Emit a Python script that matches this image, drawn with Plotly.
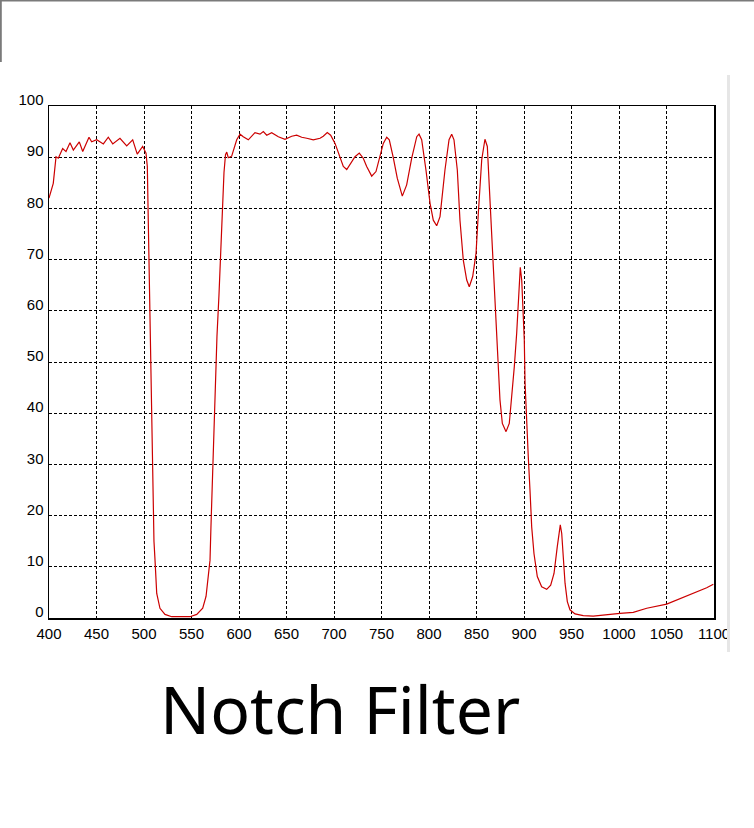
import plotly.graph_objects as go

wavelength_nm = [
    400, 404.5, 407.4, 409.8, 414.4, 417.9, 422.1, 425.6, 431.9, 435.5, 442.1, 444.9,
    450.2, 457.2, 462.4, 467.1, 474.7, 481.8, 488.1, 492.9, 498.6, 502.1, 503.5, 504.2,
    505.8, 507.4, 509, 510.5, 511.6, 513.4, 516.8, 522.1, 529.2, 548.4, 555.5, 561.8,
    565.3, 567.7, 569.5, 570.5, 572.6, 574.7, 576.8, 578.9, 580, 582.6, 584.2, 585.8,
    587.1, 588.7, 592.3, 597.6, 601.1, 604.5, 609.8, 616.8, 622.1, 625.6, 629.2, 634.4,
    641.4, 648.4, 655.5, 660.7, 666, 671.3, 678.2, 685.3, 688.7, 692.9, 696.5, 701.1,
    706.3, 709.8, 713.4, 716.8, 722.1, 726.6, 730.8, 734.4, 739.7, 744.2, 748.4, 751.9,
    755.5, 758.2, 762.4, 766.6, 771.9, 776.5, 781.8, 787.1, 789.5, 792.3, 796.8, 801.1,
    804.5, 808.1, 811.6, 816.8, 821.1, 823.9, 826.3, 829.8, 832.6, 836.1, 839.7, 842.4,
    846, 849.5, 851.9, 855.5, 858.9, 861.4, 863.5, 866, 867.7, 868.7, 870.5, 872.3,
    874.7, 877.2, 881.1, 884.5, 887.1, 889.8, 892.3, 894, 895.1, 896.1, 897.6, 898.6,
    899.3, 900.3, 901.1, 902.1, 902.8, 904.5, 906.3, 908.1, 910.5, 914, 918.6, 923.9,
    928.1, 931.6, 935, 937.2, 938.2, 939.7, 941.4, 943.2, 945.6, 948.4, 953.7, 962.4,
    972.9, 983.5, 1001, 1015, 1029.2, 1050.2, 1067.7, 1081.8, 1092.3, 1099.3,
]
transmittance_pct = [
    82.0, 84.9, 90.1, 89.8, 91.7, 91.1, 92.8, 91.4, 93.0, 91.1, 93.9, 93.0,
    93.4, 92.6, 93.9, 92.6, 93.7, 92.2, 93.4, 90.6, 92.1, 90.8, 88.2, 80,
    65, 45, 25, 15, 11.3, 4.8, 1.9, 0.7, 0.25, 0.25, 0.7, 1.9,
    4.2, 8.1, 11.3, 18, 32, 45, 55, 63, 68, 80, 87, 90.5,
    91, 89.9, 90.2, 93.4, 94.5, 94.0, 93.4, 94.8, 94.5, 95.0, 94.3, 94.8,
    94.0, 93.5, 94.1, 94.3, 93.9, 93.7, 93.4, 93.7, 94.1, 94.8, 94.3, 92.7,
    90.1, 88.2, 87.6, 88.5, 90.1, 90.8, 89.8, 88.2, 86.3, 87.2, 90.1, 92.7,
    93.9, 93.4, 89.9, 85.9, 82.4, 84.6, 89.8, 94.0, 94.5, 93.4, 87.5, 81.0,
    77.7, 76.6, 78.4, 87.5, 93.4, 94.5, 93.4, 87.5, 77.7, 69.9, 66.0, 64.7,
    66.7, 71.2, 79.0, 89.5, 93.5, 92.1, 84.2, 74.5, 69.9, 65.4, 56.9, 49.7,
    42.6, 38.0, 36.4, 38.0, 43.2, 49.1, 55.6, 62.1, 67.6, 68.5, 66.0, 60.8,
    56.9, 54.3, 46, 41, 37.4, 31.5, 25.0, 17.8, 12.6, 8.1, 6.1, 5.6,
    6.4, 8.7, 13.9, 17.5, 18.2, 16.5, 10.7, 6.8, 3.2, 1.6, 0.8, 0.45,
    0.35, 0.6, 0.9, 1.1, 1.9, 2.7, 4.0, 5.0, 5.9, 6.6,
]
x_ticks = list(range(400, 1101, 50))
y_ticks = list(range(0, 101, 10))
title_text = "Notch Filter"

fig = go.Figure()
fig.add_trace(go.Scatter(
    x=wavelength_nm, y=transmittance_pct, mode="lines",
    line=dict(color="#cc0000", width=1.2), hoverinfo="skip", showlegend=False,
))

# plot area geometry (pixels) used to convert frame decorations to paper coords
L, R, T, B = 49, 714, 106, 618
def px(xp):
    return (xp - L) / (R - L)
def py(yp):
    return (B - yp) / (B - T)

axis_font = dict(family="Liberation Sans, Arial, sans-serif", size=15, color="#000000")

fig.update_layout(
    width=754, height=828,
    margin=dict(l=L, r=754 - R, t=T, b=828 - B, pad=0),
    paper_bgcolor="white", plot_bgcolor="white",
    showlegend=False,
    xaxis=dict(
        range=[400, 1100], tickvals=x_ticks, ticktext=[str(v) for v in x_ticks],
        showgrid=True, gridcolor="#000000", gridwidth=1, griddash="3px,2px",
        showline=True, linecolor="#000000", linewidth=1.5, mirror=True,
        ticks="", zeroline=False, tickfont=axis_font, ticklabelstandoff=1,
    ),
    yaxis=dict(
        range=[0, 100], tickvals=y_ticks, ticktext=[str(v) for v in y_ticks],
        showgrid=True, gridcolor="#000000", gridwidth=1, griddash="3px,2px",
        showline=True, linecolor="#000000", linewidth=1.5, mirror=True,
        ticks="", zeroline=False, tickfont=axis_font, ticklabelshift=-6,
        ticklabelstandoff=1,
    ),
    annotations=[dict(
        text=title_text, xref="paper", yref="paper", x=px(340), y=py(708),
        xanchor="center", yanchor="middle", showarrow=False,
        font=dict(family="Noto Sans, sans-serif", size=66, color="#000000"),
    )],
    shapes=[
        # cover clipped part of right tick label
        dict(type="rect", xref="paper", yref="paper", x0=px(727), x1=px(754),
             y0=py(828), y1=py(70), fillcolor="white", line=dict(width=0), layer="above"),
        # light gray strip at right
        dict(type="rect", xref="paper", yref="paper", x0=px(727), x1=px(730),
             y0=py(652), y1=py(75), fillcolor="#e6e6e6", line=dict(width=0), layer="above"),
        # gray frame at top and top-left
        dict(type="rect", xref="paper", yref="paper", x0=px(0), x1=px(754),
             y0=py(1.5), y1=py(0), fillcolor="#7a7a7a", line=dict(width=0), layer="above"),
        dict(type="rect", xref="paper", yref="paper", x0=px(0), x1=px(1.8),
             y0=py(62), y1=py(0), fillcolor="#7a7a7a", line=dict(width=0), layer="above"),
    ],
)

fig.write_html(
    "out.html",
    config={"displayModeBar": False, "staticPlot": True},
    post_script="document.body.style.margin='0';document.body.style.padding='0';",
)
